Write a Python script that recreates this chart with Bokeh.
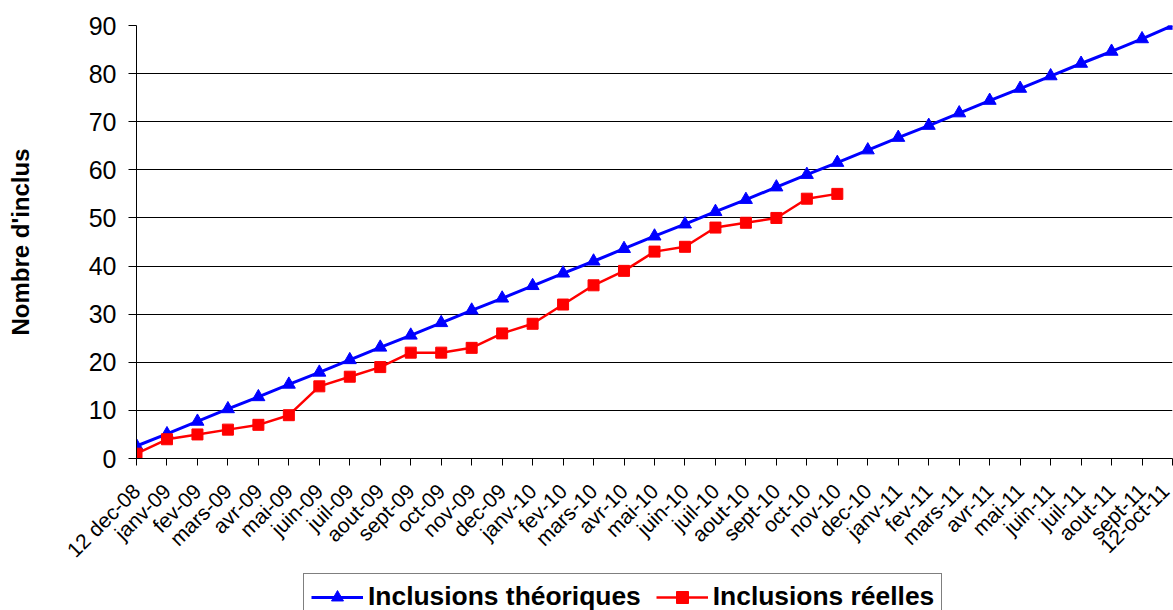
from bokeh.plotting import figure
from bokeh.layouts import column
from bokeh.models import (FixedTicker, Legend, LegendItem, ColumnDataSource)
from bokeh.embed import file_html
from bokeh.resources import INLINE

months = ["12 dec-08", "janv-09", "fev-09", "mars-09", "avr-09", "mai-09", "juin-09",
          "juil-09", "aout-09", "sept-09", "oct-09", "nov-09", "dec-09", "janv-10",
          "fev-10", "mars-10", "avr-10", "mai-10", "juin-10", "juil-10", "aout-10",
          "sept-10", "oct-10", "nov-10", "dec-10", "janv-11", "fev-11", "mars-11",
          "avr-11", "mai-11", "juin-11", "juil-11", "aout-11", "sept-11", "12-oct-11"]

theoriques = [2.6, 5.1, 7.7, 10.3, 12.8, 15.4, 17.9, 20.5, 23.1, 25.6, 28.2, 30.8,
              33.3, 35.9, 38.5, 41.0, 43.6, 46.2, 48.7, 51.3, 53.8, 56.4, 59.0, 61.5,
              64.1, 66.7, 69.2, 71.8, 74.4, 76.9, 79.5, 82.1, 84.6, 87.2, 90.0]

reelles = [1, 4, 5, 6, 7, 9, 15, 17, 19, 22, 22, 23, 26, 28, 32, 36, 39, 43, 44,
           48, 49, 50, 54, 55]

y_ticks = [0, 10, 20, 30, 40, 50, 60, 70, 80, 90]
series_names = ["Inclusions théoriques", "Inclusions réelles"]

FONT = "Liberation Sans"
BLUE = "#0000FF"
RED = "#FF0000"
W = 1173

src_t = ColumnDataSource(dict(x=list(range(len(theoriques))), y=theoriques))
src_r = ColumnDataSource(dict(x=list(range(len(reelles))), y=reelles))

p = figure(width=W, height=573, output_backend="svg", toolbar_location=None,
           x_range=(0, len(months) - 1), y_range=(0, 90),
           min_border_left=136, min_border_right=1, min_border_top=25,
           min_border_bottom=115)
p.outline_line_color = None
p.background_fill_color = "white"
p.border_fill_color = "white"

p.line("x", "y", source=src_t, line_color=BLUE, line_width=3)
p.scatter("x", "y", source=src_t, marker="triangle", size=13,
          fill_color=BLUE, line_color=BLUE)
p.line("x", "y", source=src_r, line_color=RED, line_width=2.5)
p.scatter("x", "y", source=src_r, marker="square", size=11,
          fill_color=RED, line_color=RED)

# x axis
p.xaxis.ticker = FixedTicker(ticks=list(range(len(months))))
p.xaxis.major_label_overrides = {i: m for i, m in enumerate(months)}
p.xaxis.major_label_orientation = 0.785398
p.xaxis.major_label_text_font = FONT
p.xaxis.major_label_text_font_size = "21px"
p.xaxis.major_label_text_color = "black"
p.xaxis.major_label_standoff = 22
p.xaxis.major_tick_out = 7
p.xaxis.major_tick_in = 0
p.xaxis.minor_tick_line_color = None
p.xaxis.axis_line_color = "black"
p.xaxis.major_tick_line_color = "black"

# y axis
p.yaxis.ticker = FixedTicker(ticks=y_ticks)
p.yaxis.major_label_text_font = FONT
p.yaxis.major_label_text_font_size = "25px"
p.yaxis.major_label_text_color = "black"
p.yaxis.major_label_standoff = 12
p.yaxis.major_tick_out = 8
p.yaxis.major_tick_in = 0
p.yaxis.minor_tick_line_color = None
p.yaxis.axis_line_color = "black"
p.yaxis.major_tick_line_color = "black"
p.yaxis.axis_label = "Nombre d'inclus"
p.yaxis.axis_label_text_font = FONT
p.yaxis.axis_label_text_font_size = "24px"
p.yaxis.axis_label_text_font_style = "bold"
p.yaxis.axis_label_text_color = "black"
p.yaxis.axis_label_standoff = 52

p.xgrid.grid_line_color = None
p.ygrid.grid_line_color = "black"
p.ygrid.grid_line_width = 1

# legend strip below the chart (its glyphs reuse the series, kept out of view)
lf = figure(width=W, height=37, output_backend="svg", toolbar_location=None,
            x_range=(-3, -2), y_range=(-3, -2), x_axis_type=None, y_axis_type=None,
            min_border=0)
lf.outline_line_color = None
lf.grid.grid_line_color = None
lf.border_fill_color = "white"
lf.background_fill_color = "white"
a1 = lf.line("x", "y", source=src_t, line_color=BLUE, line_width=3)
b1 = lf.scatter("x", "y", source=src_t, marker="triangle", size=13,
                fill_color=BLUE, line_color=BLUE)
a2 = lf.line("x", "y", source=src_r, line_color=RED, line_width=2.5)
b2 = lf.scatter("x", "y", source=src_r, marker="square", size=11,
                fill_color=RED, line_color=RED)

legend = Legend(items=[LegendItem(label=series_names[0], renderers=[a1, b1]),
                       LegendItem(label=series_names[1], renderers=[a2, b2])],
                orientation="horizontal", location=(167, -10),
                label_text_font=FONT, label_text_font_size="26.4px",
                label_text_font_style="bold", label_text_color="black",
                border_line_color="black", border_line_width=1,
                background_fill_color="white", background_fill_alpha=1,
                glyph_width=52, glyph_height=30, label_standoff=5, spacing=15,
                padding=7, margin=0, label_height=30)
lf.add_layout(legend, "center")

layout = column(p, lf, spacing=0)
open("out.html", "w").write(file_html(layout, INLINE))
